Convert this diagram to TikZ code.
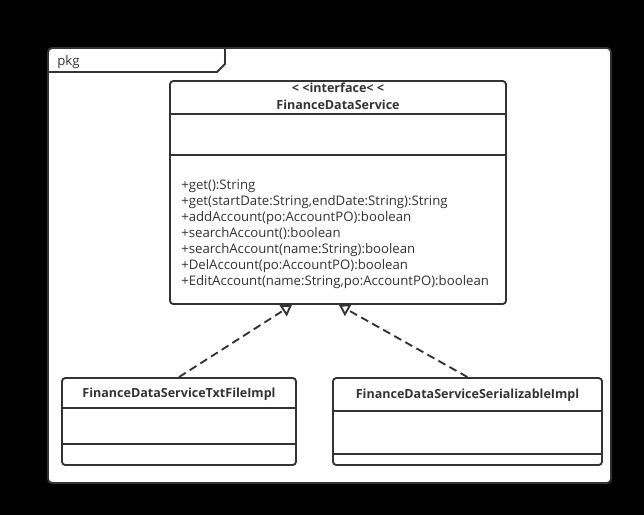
\documentclass[tikz,border=0pt]{standalone}
\usepackage{fontspec}
\setmainfont{Open Sans}
\usetikzlibrary{arrows.meta}
\definecolor{umlgray}{HTML}{333333}
\tikzset{
  box/.style={draw=umlgray,fill=white,line width=1.4pt,rounded corners=2.5pt,inner sep=0pt},
  sep/.style={draw=umlgray,line width=1.4pt},
  title/.style={anchor=base,inner sep=0pt,text=umlgray,font=\fontsize{9.4}{11}\selectfont\bfseries},
  op/.style={anchor=base west,inner sep=0pt,text=umlgray,font=\fontsize{9.9}{12}\selectfont},
  realize/.style={draw=umlgray,line width=1.4pt,dash pattern=on 6pt off 3.5pt,
    -{Triangle[open,length=8pt,width=10pt,fill=white]}}
}
\begin{document}
\begin{tikzpicture}[x=0.75pt,y=-0.75pt]
\fill[black] (0,0) rectangle (644,515);
\useasboundingbox (0,0) rectangle (644,515);

%%%%%%%%%%%%%%%% package frame
\draw[box,rounded corners=3pt] (48,48) rectangle (611,483);
\draw[sep] (48,72) -- (217,72) -- (225,64) -- (225,49);
\node[op] (pkg) at (57,65) {pkg};

%%%%%%%%%%%%%%%% interface
\node[box,minimum width=252pt,minimum height=167.25pt] (iface) at (338,192.5) {};
\draw[sep] (170,114) -- (506,114);\draw[sep] (170,155) -- (506,155);
\node[title] (stereo) at (338,92) {<\kern2.5pt<interface<\kern2.5pt<};
\node[title] (ifname) at (338,109) {FinanceDataService};
\foreach \t [count=\i] in {{+get():String},
  {+get(startDate:String,endDate:String):String},
  {+addAccount(po:AccountPO):boolean},
  {+searchAccount():boolean},
  {+searchAccount(name:String):boolean},
  {+DelAccount(po:AccountPO):boolean},
  {+EditAccount(name:String,po:AccountPO):boolean}}
  \node[op] (op\i) at (181,173+16*\i) {\t};

%%%%%%%%%%%%%%%% implementations
\node[box,minimum width=175.5pt,minimum height=65.25pt] (txt) at (179,421.5) {};
\draw[sep] (62,408) -- (296,408);\draw[sep] (62,444) -- (296,444);
\node[title] (txtname) at (179,397) {FinanceDataServiceTxtFileImpl};

\node[box,minimum width=201.75pt,minimum height=65.25pt] (ser) at (467.5,421.5) {};
\draw[sep] (333,411) -- (602,411);\draw[sep] (333,454) -- (602,454);
\node[title] (sername) at (467.5,398) {FinanceDataServiceSerializableImpl};

%%%%%%%%%%%%%%%% realizations
\draw[realize] (txt.north) -- ([xshift=-34.5pt]iface.south);
\draw[realize] (ser.north) -- ([xshift=0.75pt]iface.south);

\end{tikzpicture}
\end{document}
